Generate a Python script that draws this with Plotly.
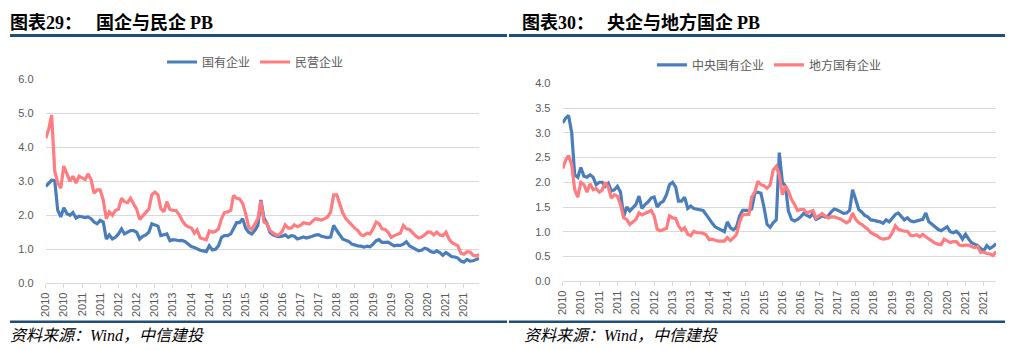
import pandas as pd
import plotly.graph_objects as go

# ---------------- data (monthly, starting 2010-01) ----------------
soe_pb = [2.85, 2.95, 3.03, 3.02, 2.15, 1.95, 2.22, 2.05, 2.0, 2.08, 1.92, 1.97,
          1.95, 1.93, 1.95, 1.9, 1.8, 1.75, 1.85, 1.8, 1.3, 1.42, 1.3, 1.35,
          1.45, 1.6, 1.45, 1.5, 1.55, 1.55, 1.5, 1.3, 1.38, 1.42, 1.5, 1.75,
          1.72, 1.68, 1.4, 1.42, 1.45, 1.25, 1.28, 1.27, 1.25, 1.26, 1.22, 1.15,
          1.08, 1.05, 1.0, 0.97, 0.95, 0.93, 1.1, 0.98, 1.0, 1.1, 1.35, 1.4,
          1.4, 1.45, 1.6, 1.78, 1.78, 1.9, 1.62, 1.5, 1.45, 1.55, 1.7, 2.45,
          1.92, 1.75, 1.5, 1.42, 1.39, 1.37, 1.38, 1.42, 1.35, 1.4, 1.38, 1.3,
          1.33, 1.36, 1.33, 1.35, 1.38, 1.42, 1.43, 1.38, 1.35, 1.34, 1.36, 1.7,
          1.55, 1.42, 1.3, 1.26, 1.23, 1.15, 1.12, 1.1, 1.09, 1.06, 1.09, 1.07,
          1.15, 1.25, 1.28, 1.2, 1.2, 1.21, 1.15, 1.1, 1.12, 1.11, 1.15, 1.22,
          1.1, 1.06, 1.0, 0.95, 0.97, 1.03, 1.0, 0.93, 0.9, 0.95, 0.9, 0.82,
          0.9, 0.84, 0.78, 0.77, 0.74, 0.65, 0.62, 0.7, 0.65, 0.66, 0.7, 0.73]

private_pb = [4.27, 4.55, 4.95, 3.3, 2.95, 2.8, 3.45, 3.2, 3.0, 3.15, 2.95, 3.15,
              3.1, 3.05, 3.22, 3.05, 2.65, 2.75, 2.75, 2.45, 1.9, 2.1, 2.0, 2.14,
              2.18, 2.5, 2.4, 2.37, 2.5, 2.35, 2.18, 1.88, 1.98, 2.08, 2.18, 2.6,
              2.68, 2.6, 2.2, 2.1, 2.4, 2.17, 2.14, 2.14, 2.02, 1.85, 1.72, 1.66,
              1.63, 1.47, 1.57, 1.33, 1.3, 1.28, 1.54, 1.5, 1.53, 1.6, 1.9, 2.08,
              2.1, 2.14, 2.58, 2.5, 2.48, 2.35, 2.05, 1.65, 1.58, 1.72, 1.9, 2.42,
              1.8, 1.75, 1.55, 1.48, 1.42, 1.42, 1.52, 1.72, 1.62, 1.62, 1.72, 1.66,
              1.7, 1.78, 1.76, 1.74, 1.82, 1.9, 1.88, 1.86, 1.9, 1.95, 2.1, 2.6,
              2.6, 2.3, 2.08, 1.9, 1.8, 1.72, 1.62, 1.55, 1.42, 1.4, 1.47, 1.45,
              1.6, 1.8, 1.75, 1.6, 1.58, 1.5, 1.35, 1.4, 1.44, 1.47, 1.7, 1.6,
              1.58, 1.48, 1.4, 1.33, 1.36, 1.42, 1.5, 1.5, 1.42, 1.5, 1.42, 1.4,
              1.5, 1.3, 1.2, 1.15, 1.1, 0.88, 0.85, 0.93, 0.92, 0.82, 0.8, 0.85]

central_pb = [3.2, 3.3, 3.35, 3.0, 2.15, 2.1, 2.3, 2.12, 2.1, 2.15, 2.1, 1.95,
              2.0, 2.0, 1.92, 1.98, 1.82, 1.85, 1.92, 1.8, 1.3, 1.5, 1.42, 1.48,
              1.55, 1.72, 1.47, 1.55, 1.6, 1.68, 1.7, 1.5, 1.58, 1.62, 1.75, 1.95,
              2.0, 1.9, 1.62, 1.62, 1.7, 1.47, 1.52, 1.47, 1.46, 1.45, 1.43, 1.35,
              1.25, 1.17, 1.1, 1.06, 1.04, 1.0, 1.2, 1.08, 1.04, 1.1, 1.32, 1.43,
              1.43, 1.43, 1.46, 1.78, 1.8, 1.78, 1.5, 1.15, 1.09, 1.18, 1.24, 2.6,
              2.0, 1.92, 1.42, 1.25, 1.22, 1.25, 1.3, 1.37, 1.33, 1.3, 1.37, 1.25,
              1.28, 1.33, 1.3, 1.32, 1.4, 1.46, 1.44, 1.4, 1.37, 1.38, 1.43, 1.85,
              1.63, 1.45, 1.4, 1.33, 1.3, 1.24, 1.23, 1.22, 1.2, 1.17, 1.24, 1.2,
              1.28, 1.35, 1.38, 1.3, 1.24, 1.28, 1.22, 1.2, 1.22, 1.24, 1.25, 1.38,
              1.2, 1.15, 1.1, 1.05, 1.02, 1.06, 1.1, 1.0, 0.98, 1.01, 0.95, 0.85,
              0.95, 0.85, 0.78, 0.75, 0.72, 0.66, 0.62, 0.72, 0.66, 0.7, 0.76]

local_pb = [2.28, 2.45, 2.54, 2.35, 1.85, 1.7, 2.0, 1.95, 1.8, 1.97, 1.85, 1.87,
            1.8, 1.85, 2.0, 1.9, 1.68, 1.75, 1.72, 1.55, 1.28, 1.25, 1.15, 1.2,
            1.25, 1.38, 1.34, 1.37, 1.4, 1.43, 1.32, 1.05, 1.02, 1.05, 1.07, 1.32,
            1.28, 1.27, 1.12, 1.03, 1.08, 0.95, 0.92, 1.01, 0.98, 0.98, 0.97, 0.94,
            0.84, 0.85, 0.83, 0.81, 0.81, 0.81, 0.88, 0.82, 0.88, 0.95, 1.2, 1.34,
            1.35, 1.35, 1.7, 1.8, 2.02, 1.95, 1.93, 1.88, 1.95, 2.25, 2.32, 2.15,
            1.75, 1.93, 1.82, 1.65, 1.55, 1.43, 1.45, 1.45, 1.38, 1.4, 1.43, 1.28,
            1.33, 1.37, 1.32, 1.28, 1.3, 1.3, 1.28, 1.26, 1.22, 1.18, 1.22, 1.38,
            1.25, 1.18, 1.15, 1.1, 1.05, 0.98, 0.95, 0.92, 0.87, 0.85, 0.86, 0.88,
            0.98, 1.12, 1.05, 1.03, 1.01, 1.01, 0.93, 0.92, 0.94, 0.9, 0.95, 0.9,
            0.85, 0.8, 0.77, 0.75, 0.74, 0.85, 0.82, 0.78, 0.8, 0.8, 0.73, 0.72,
            0.73, 0.73, 0.7, 0.68, 0.7, 0.58, 0.59, 0.56, 0.55, 0.52, 0.6]

months_left = pd.date_range("2010-01-01", periods=len(soe_pb), freq="MS")
months_right = pd.date_range("2010-01-01", periods=len(central_pb), freq="MS")

names_left = ["国有企业", "民营企业"]
names_right = ["中央国有企业", "地方国有企业"]
title_left = ("图表29：", "国企与民企 PB")
title_right = ("图表30：", "央企与地方国企 PB")

BLUE = "#4A7EBB"
RED = "#FF7C80"
GRID = "#D9D9D9"
TXT = "#595959"
RULE = "#1F4E79"
FONT = "Liberation Sans, Noto Sans CJK SC, sans-serif"

W, H = 1010, 350


def px(x):
    return x / W


def py(y):
    return 1 - y / H


fig = go.Figure()
fig.add_trace(go.Scatter(x=months_left, y=soe_pb, name=names_left[0], mode="lines",
                         line=dict(color=BLUE, width=3.2), xaxis="x", yaxis="y", legend="legend"))
fig.add_trace(go.Scatter(x=months_left, y=private_pb, name=names_left[1], mode="lines",
                         line=dict(color=RED, width=3.2), xaxis="x", yaxis="y", legend="legend"))
fig.add_trace(go.Scatter(x=months_right, y=central_pb, name=names_right[0], mode="lines",
                         line=dict(color=BLUE, width=3.2), xaxis="x2", yaxis="y2", legend="legend2"))
fig.add_trace(go.Scatter(x=months_right, y=local_pb, name=names_right[1], mode="lines",
                         line=dict(color=RED, width=3.2), xaxis="x2", yaxis="y2", legend="legend2"))

xcommon = dict(type="date", tickformat="%Y", dtick="M6", tick0="2010-01-01", tickangle=-90,
               showgrid=False, showline=True, linecolor=GRID, linewidth=1,
               ticks="outside", ticklen=4, tickcolor=GRID,
               tickfont=dict(size=11, color=TXT, family=FONT), fixedrange=True)
ycommon = dict(showgrid=True, gridcolor=GRID, gridwidth=1, zeroline=False, showline=False,
               tickformat=".1f", tickfont=dict(size=11, color=TXT, family=FONT),
               ticks="outside", ticklen=9, tickcolor="rgba(0,0,0,0)", fixedrange=True)

fig.update_layout(
    width=W, height=H, margin=dict(l=0, r=0, t=0, b=0),
    paper_bgcolor="white", plot_bgcolor="white",
    font=dict(family=FONT, color=TXT),
    xaxis=dict(domain=[px(40), px(476)], anchor="y",
               range=[months_left[0], months_left[-1]], **xcommon),
    yaxis=dict(domain=[py(287), py(76)], anchor="x", range=[0, 6.001], dtick=1, **ycommon),
    xaxis2=dict(domain=[px(560), px(996)], anchor="y2",
                range=[months_right[0], months_right[-1]], **xcommon),
    yaxis2=dict(domain=[py(285), py(80)], anchor="x2", range=[0, 4.001], dtick=0.5, **ycommon),
    legend=dict(orientation="h", x=px(251), xanchor="center", y=py(58), yanchor="middle",
                font=dict(size=12, color=TXT, family=FONT), bgcolor="rgba(0,0,0,0)",
                itemwidth=30, tracegroupgap=0),
    legend2=dict(orientation="h", x=px(768), xanchor="center", y=py(61), yanchor="middle",
                 font=dict(size=12, color=TXT, family=FONT), bgcolor="rgba(0,0,0,0)",
                 itemwidth=30, tracegroupgap=0),
    showlegend=True,
)

SERIF = "Liberation Serif"
CJK = "Noto Sans CJK SC"


def mixed(s):
    # latin letters / digits in serif, chinese in CJK
    out = ""
    for ch in s:
        if ch.isascii() and ch != " ":
            out += f"<span style='font-family:{SERIF}'>{ch}</span>"
        else:
            out += ch
    return out


for (pre, body), x0, x1 in [(title_left, 2, 89), (title_right, 517, 603)]:
    fig.add_annotation(x=px(x0), y=py(16), xref="paper", yref="paper", xanchor="left",
                       yanchor="middle", showarrow=False, text=f"<b>{mixed(pre)}</b>",
                       font=dict(size=18, color="#000000", family=CJK))
    fig.add_annotation(x=px(x1), y=py(16), xref="paper", yref="paper", xanchor="left",
                       yanchor="middle", showarrow=False, text=f"<b>{mixed(body)}</b>",
                       font=dict(size=18, color="#000000", family=CJK))

for x0 in [2, 519]:
    fig.add_annotation(x=px(x0), y=py(340), xref="paper", yref="paper", xanchor="left",
                       yanchor="middle", showarrow=False,
                       text=f"<i>资料来源：<span style='font-family:{SERIF}'>Wind</span>，中信建投</i>",
                       font=dict(size=16, color="#000000", family=CJK))

for xa, xb in [(4, 504), (506, 1005)]:
    fig.add_shape(type="line", xref="paper", yref="paper", x0=px(xa), x1=px(xb),
                  y0=py(30.5), y1=py(30.5), line=dict(color=RULE, width=3))
    fig.add_shape(type="line", xref="paper", yref="paper", x0=px(xa), x1=px(xb),
                  y0=py(327), y1=py(327), line=dict(color=RULE, width=2.5))

fig.write_html("out.html")
